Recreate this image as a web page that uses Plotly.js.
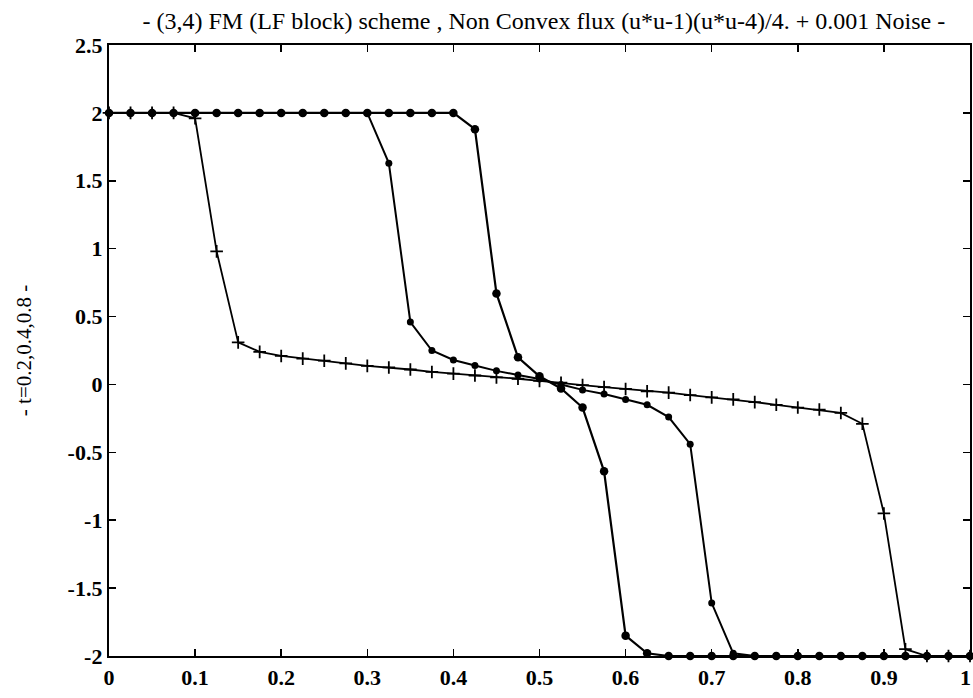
<!DOCTYPE html>
<html>
<head>
<meta charset="utf-8">
<script src="https://cdn.plot.ly/plotly-3.0.1.min.js"></script>
<style>
html,body{margin:0;padding:0;background:#fff;}
#chart{width:973px;height:698px;}
</style>
</head>
<body>
<div id="chart"></div>
<script>
// grid x positions (0 .. 1, step 0.025)
const xGrid = [0,0.025,0.05,0.075,0.1,0.125,0.15,0.175,0.2,0.225,0.25,0.275,0.3,0.325,0.35,0.375,0.4,0.425,0.45,0.475,0.5,0.525,0.55,0.575,0.6,0.625,0.65,0.675,0.7,0.725,0.75,0.775,0.8,0.825,0.85,0.875,0.9,0.925,0.95,0.975,1];

// t = 0.2
const uT02 = [2,2,2,2,2,2,2,2,2,2,2,2,2,2,2,2,2,1.88,0.67,0.2,0.06,-0.03,-0.17,-0.64,-1.85,-1.98,-2,-2,-2,-2,-2,-2,-2,-2,-2,-2,-2,-2,-2,-2,-2];
// t = 0.4
const uT04 = [2,2,2,2,2,2,2,2,2,2,2,2,2,1.63,0.46,0.25,0.18,0.14,0.1,0.07,0.04,0.0,-0.04,-0.07,-0.11,-0.15,-0.24,-0.44,-1.61,-1.98,-2,-2,-2,-2,-2,-2,-2,-2,-2,-2,-2];
// t = 0.8
const uT08 = [2,2,2,2,1.96,0.98,0.31,0.24,0.21,0.19,0.175,0.155,0.137,0.125,0.11,0.092,0.08,0.066,0.052,0.042,0.026,0.013,-0.005,-0.02,-0.033,-0.05,-0.06,-0.078,-0.095,-0.11,-0.13,-0.15,-0.17,-0.185,-0.21,-0.29,-0.95,-1.95,-2,-2,-2];

const titleText = "- (3,4) FM (LF block) scheme , Non Convex flux (u*u-1)(u*u-4)/4. + 0.001 Noise -";
const yTitleText = "- t=0.2,0.4,0.8 -";
const xTickVals = [0,0.1,0.2,0.3,0.4,0.5,0.6,0.7,0.8,0.9,1];
const xTickText = ["0","0.1","0.2","0.3","0.4","0.5","0.6","0.7","0.8","0.9","1"];
const yTickVals = [-2,-1.5,-1,-0.5,0,0.5,1,1.5,2,2.5];
const yTickText = ["-2","-1.5","-1","-0.5","0","0.5","1","1.5","2","2.5"];

const serif = '"Liberation Serif", "Times New Roman", serif';

const traces = [
  {x: xGrid, y: uT08, mode: 'lines+markers', cliponaxis: false,
   line: {color: '#000', width: 1.8},
   marker: {symbol: 'cross-thin', size: 9, line: {color: '#000', width: 1.8}}},
  {x: xGrid, y: uT04, mode: 'lines+markers', cliponaxis: false,
   line: {color: '#000', width: 2},
   marker: {symbol: 'circle', size: 7, color: '#000'}},
  {x: xGrid, y: uT02, mode: 'lines+markers', cliponaxis: false,
   line: {color: '#000', width: 2.2},
   marker: {symbol: 'circle', size: 8.5, color: '#000'}}
];

const tickFont = {family: serif, size: 22, color: '#000', weight: 'bold'};

// last x tick label sits at the very right edge: draw it right-anchored so it stays inside the page
const nX = xTickVals.length;
const edgeLabel = {
  x: xTickVals[nX - 1], xref: 'x', y: 0, yref: 'paper',
  text: xTickText[nX - 1], showarrow: false,
  xanchor: 'right', xshift: 3, yanchor: 'top', yshift: -7,
  font: tickFont
};

const layout = {
  width: 973, height: 698,
  margin: {l: 109, r: 3, t: 45, b: 42},
  paper_bgcolor: '#fff', plot_bgcolor: '#fff',
  showlegend: false,
  title: {text: titleText, x: 0.559, xanchor: 'center', y: 0.97, yanchor: 'middle',
          font: {family: serif, size: 24, color: '#000'}},
  xaxis: {range: [0, 1], tickvals: xTickVals, ticktext: xTickText.slice(0, nX - 1).concat([""]),
          ticks: 'inside', ticklen: 7, tickwidth: 1.5, tickcolor: '#000',
          showline: true, linecolor: '#000', linewidth: 2.2, mirror: 'ticks',
          showgrid: false, zeroline: false, tickfont: tickFont, automargin: false},
  yaxis: {range: [-2, 2.5], tickvals: yTickVals, ticktext: yTickText,
          ticks: 'inside', ticklen: 7, tickwidth: 1.5, tickcolor: '#000',
          showline: true, linecolor: '#000', linewidth: 2.2, mirror: 'ticks',
          showgrid: false, zeroline: false, tickfont: tickFont, automargin: false,
          title: {text: yTitleText, standoff: 30,
                  font: {family: serif, size: 21, color: '#000'}}},
  annotations: [edgeLabel]
};

Plotly.newPlot('chart', traces, layout, {displayModeBar: false, staticPlot: true});
</script>
</body>
</html>
